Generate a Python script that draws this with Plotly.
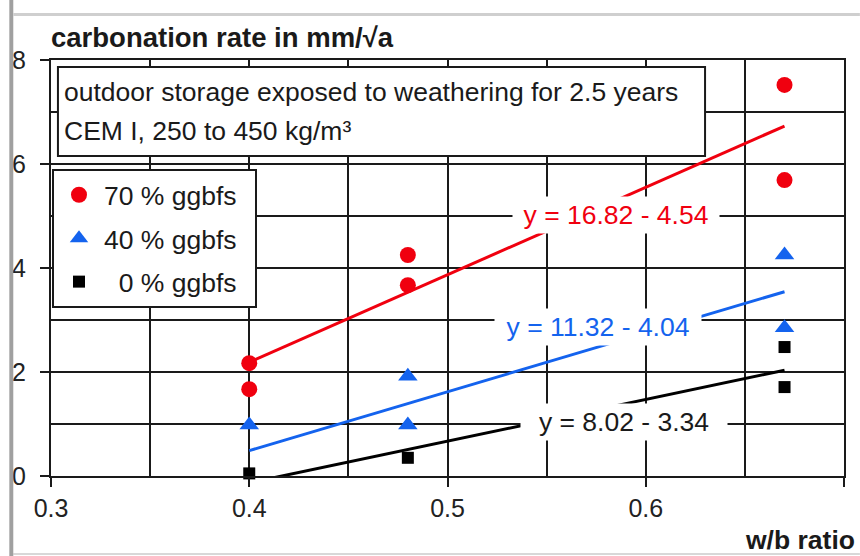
import plotly.graph_objects as go

# Measured carbonation rates (mm/sqrt(a)) against water/binder ratio
wb_70 = [0.40, 0.40, 0.48, 0.48, 0.67, 0.67]
rate_70 = [2.17, 1.67, 4.25, 3.67, 7.52, 5.69]

wb_40 = [0.40, 0.48, 0.48, 0.67, 0.67]
rate_40 = [0.98, 1.92, 0.98, 4.25, 2.85]

wb_0 = [0.40, 0.48, 0.67, 0.67]
rate_0 = [0.05, 0.35, 2.48, 1.71]

# Linear regression lines y = a*x - b
fit_a = [16.82, 11.32, 8.02]
fit_b = [4.54, 4.04, 3.34]
fit_range = [0.40, 0.67]

series_names = ["70 % ggbfs\u2002", "40 % ggbfs\u2002", "\u20070 % ggbfs\u2002"]
series_colors = ["#f0000f", "#1463ee", "#000000"]
series_symbols = ["circle", "triangle-up", "square"]
series_sizes = [16, 17, 12]

x_ticks = [0.3, 0.4, 0.5, 0.6, 0.7]
y_ticks = [0, 2, 4, 6, 8]

FONT = "Liberation Sans, Arial, Helvetica, sans-serif"
FS = 26.5

# plot area in pixels
L, R, T, B = 45, 844, 60, 476


def px(x):
    return (x - L) / (R - L)


def py(y):
    return (B - y) / (B - T)


fig = go.Figure()

xs = [wb_70, wb_40, wb_0]
ys = [rate_70, rate_40, rate_0]

for i in range(3):
    a, b = fit_a[i], fit_b[i]
    fig.add_trace(go.Scatter(
        x=fit_range,
        y=[a * fit_range[0] - b, a * fit_range[1] - b],
        mode="lines",
        line=dict(color=series_colors[i], width=3),
        showlegend=False,
        hoverinfo="skip",
    ))

for i in range(3):
    fig.add_trace(go.Scatter(
        x=xs[i], y=ys[i],
        mode="markers",
        name=series_names[i],
        legendgroup=f"g{i}",
        marker=dict(color=series_colors[i], symbol=series_symbols[i],
                    size=series_sizes[i], line=dict(width=0)),
        cliponaxis=False,
    ))

# equation labels, placed on their regression lines
eq_pos = [(0.5849, 5.02), (0.5758, 2.87), (0.5889, 1.04)]
eq_text_colors = ["#f0000f", "#1463ee", "#1a1a1a"]
for i in range(3):
    fig.add_annotation(
        x=eq_pos[i][0], y=eq_pos[i][1], xref="x", yref="y",
        text=f"y = {fit_a[i]:.2f} - {fit_b[i]:.2f}",
        showarrow=False, bgcolor="white", width=204, height=34, borderpad=1,
        font=dict(family=FONT, size=FS, color=eq_text_colors[i]),
    )

shapes = []
# condition box
shapes.append(dict(type="rect", xref="paper", yref="paper",
                   x0=px(52), x1=px(704), y0=py(156), y1=py(67),
                   line=dict(color="#1a1a1a", width=2), fillcolor="white",
                   layer="above"))
# page frame lines
shapes.append(dict(type="rect", xref="paper", yref="paper",
                   x0=px(3), x1=px(7), y0=py(556), y1=py(0),
                   line=dict(width=0), fillcolor="#a0a0a0", layer="above"))
shapes.append(dict(type="rect", xref="paper", yref="paper",
                   x0=px(7), x1=px(860), y0=py(16), y1=py(13),
                   line=dict(width=0), fillcolor="#cfcfcf", layer="above"))
shapes.append(dict(type="rect", xref="paper", yref="paper",
                   x0=px(7), x1=px(860), y0=py(555), y1=py(553),
                   line=dict(width=0), fillcolor="#d8d8d8", layer="below"))

fig.add_annotation(x=px(56), y=py(92), xref="paper", yref="paper",
                   xanchor="left", yanchor="middle", showarrow=False,
                   text="outdoor storage exposed to weathering for 2.5 years",
                   font=dict(family=FONT, size=FS, color="#1a1a1a"))
fig.add_annotation(x=px(56), y=py(131), xref="paper", yref="paper",
                   xanchor="left", yanchor="middle", showarrow=False,
                   text="CEM I, 250 to 450 kg/m³",
                   font=dict(family=FONT, size=FS, color="#1a1a1a"))

# axis titles
fig.add_annotation(x=px(43), y=py(37), xref="paper", yref="paper",
                   xanchor="left", yanchor="middle", showarrow=False,
                   text="<b>carbonation rate in mm/√a</b>",
                   font=dict(family=FONT, size=27.5, color="#1a1a1a"))
fig.add_annotation(x=px(857), y=py(540), xref="paper", yref="paper",
                   xanchor="right", yanchor="middle", showarrow=False,
                   text="<b>w/b ratio</b>",
                   font=dict(family=FONT, size=FS, color="#1a1a1a"))

axis_common = dict(
    showline=True, mirror=True, linecolor="#1a1a1a", linewidth=2,
    showgrid=True, gridcolor="#1a1a1a", gridwidth=2,
    ticks="outside", ticklen=9, tickwidth=2, tickcolor="#1a1a1a",
    zeroline=False,
    tickfont=dict(family=FONT, size=25, color="#222222"),
)

fig.update_xaxes(range=[0.3, 0.7], tickvals=x_ticks,
                 ticktext=[f"{v:.1f}" for v in x_ticks],
                 minor=dict(dtick=0.05, showgrid=True, gridcolor="#1a1a1a",
                            gridwidth=2, ticks=""),
                 ticklabelstandoff=0, **axis_common)
fig.update_yaxes(range=[0, 8], tickvals=y_ticks,
                 ticktext=[str(v) for v in y_ticks],
                 minor=dict(dtick=1, showgrid=True, gridcolor="#1a1a1a",
                            gridwidth=2, ticks=""),
                 ticklabelstandoff=9, **axis_common)

fig.update_layout(
    width=860, height=556,
    margin=dict(l=L, r=860 - R, t=T, b=556 - B),
    paper_bgcolor="white", plot_bgcolor="white",
    shapes=shapes,
    showlegend=True,
    legend=dict(x=px(46), y=py(169), xanchor="left", yanchor="top",
                bgcolor="white", bordercolor="#1a1a1a", borderwidth=2,
                font=dict(family=FONT, size=FS, color="#1a1a1a"),
                tracegroupgap=6, itemsizing="trace", itemwidth=40),
)

fig.write_html("out.html")
